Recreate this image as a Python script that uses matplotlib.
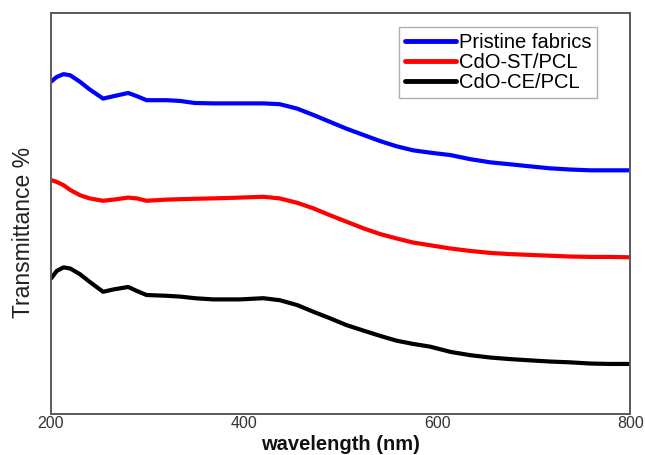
import matplotlib
matplotlib.use("Agg")
import matplotlib.pyplot as plt

plt.rcParams['font.family'] = ['Liberation Sans', 'DejaVu Sans']

wavelength = [200, 206, 213, 220, 230, 240, 254, 265, 280, 289, 299, 320, 334, 349, 368, 396,
              420, 437, 455, 472, 489, 506, 524, 541, 558, 575,
              593, 614, 634, 655, 676, 696, 717, 738, 759, 779, 800]
pristine = [82.9, 84.1, 84.8, 84.5, 82.9, 81.0, 78.7, 79.3, 80.1, 79.3, 78.3, 78.3, 78.1, 77.6, 77.5, 77.5,
            77.5, 77.3, 76.2, 74.6, 72.9, 71.2, 69.6, 68.1, 66.8, 65.8,
            65.2, 64.6, 63.6, 62.8, 62.3, 61.8, 61.3, 61.0, 60.8, 60.8, 60.8]
cdo_st = [58.4, 57.9, 57.1, 55.9, 54.6, 53.8, 53.2, 53.5, 54.0, 53.8, 53.2, 53.5, 53.6, 53.7, 53.8, 54.0,
          54.2, 53.8, 52.7, 51.3, 49.6, 48.0, 46.3, 44.9, 43.8, 42.8,
          42.1, 41.3, 40.7, 40.2, 39.9, 39.7, 39.5, 39.3, 39.2, 39.2, 39.1]
cdo_ce = [33.8, 35.7, 36.6, 36.3, 34.9, 33.0, 30.5, 31.1, 31.7, 30.7, 29.7, 29.5, 29.3, 28.9, 28.6, 28.6,
          28.9, 28.4, 27.2, 25.5, 23.9, 22.2, 20.8, 19.5, 18.3, 17.5,
          16.8, 15.5, 14.7, 14.1, 13.7, 13.4, 13.1, 12.9, 12.6, 12.5, 12.5]
labels = ["Pristine fabrics", "CdO-ST/PCL", "CdO-CE/PCL"]
xticks = [200, 400, 600, 800]

fig = plt.figure(figsize=(6.45, 4.55), dpi=100)
ax = fig.add_axes([0.079, 0.090, 0.898, 0.881])

for y, c, lab in zip([pristine, cdo_st, cdo_ce], ["#0000ff", "#ff0000", "#000000"], labels):
    ax.plot(wavelength, y, color=c, lw=3.0, label=lab,
            solid_capstyle='round', solid_joinstyle='round')

ax.set_xlim(200, 800)
ax.set_ylim(0, 100)
ax.set_xticks(xticks)
ax.set_xticklabels([str(t) for t in xticks])
ax.tick_params(axis='x', length=0, pad=1.5, labelsize=11.5, labelcolor='#333333')
ax.set_yticks([])
for s in ax.spines.values():
    s.set_color('#5a5a5a')
    s.set_linewidth(1.4)

ax.set_ylabel("Transmittance %", fontsize=16.5, color='#222222', va='center', ha='center')
ax.yaxis.set_label_coords(-0.047, 0.453)
ax.set_xlabel("wavelength (nm)", fontsize=14.5, fontweight='bold', color='#111111', va='top')
ax.xaxis.set_label_coords(0.5, -0.053)

leg = ax.legend(loc='upper right', bbox_to_anchor=(0.943, 0.965), fontsize=14.5,
                handlelength=2.5, handletextpad=0.15, borderpad=0.3, labelspacing=0.05,
                borderaxespad=0.0, fancybox=False, framealpha=1, edgecolor='#b0b0b0')
leg.get_frame().set_linewidth(1.0)
for h in leg.get_lines():
    h.set_linewidth(3.5)

fig.savefig("out.png", dpi=100)
